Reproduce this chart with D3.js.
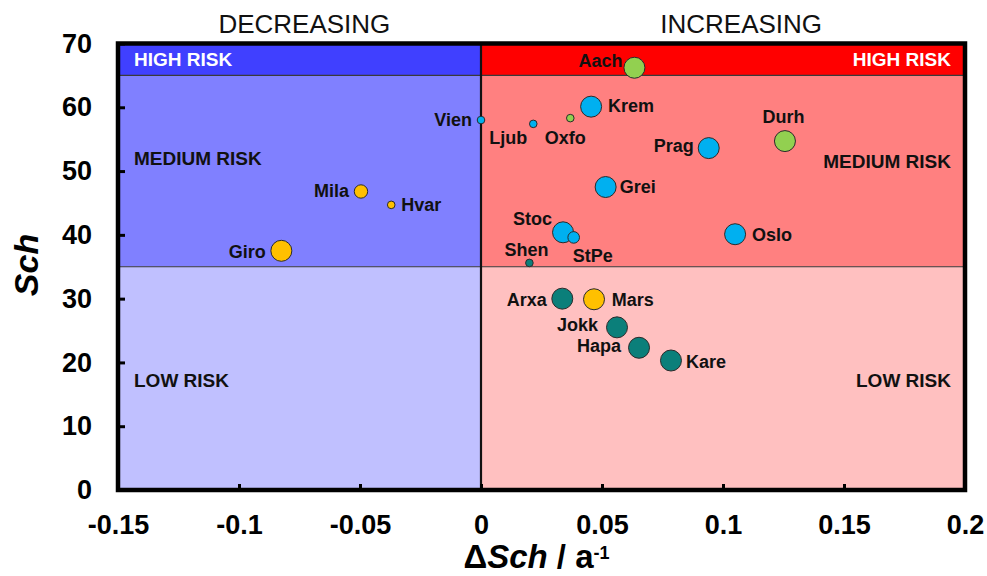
<!DOCTYPE html>
<html>
<head>
<meta charset="utf-8">
<script src="https://cdn.jsdelivr.net/npm/d3@7"></script>
<style>
  html, body { margin: 0; padding: 0; background: #fff; }
  svg text { font-family: "Liberation Sans", Arial, sans-serif; }
</style>
</head>
<body>
<svg id="chart" width="987" height="576"></svg>
<script>
// Sites, rate of change of the Sch index (per year) and current Sch value
const sites = ["Vien", "Ljub", "Oxfo", "Krem", "Prag", "Grei", "Stoc", "StPe", "Shen", "Oslo",
               "Durh", "Aach", "Mila", "Hvar", "Giro", "Arxa", "Mars", "Jokk", "Hapa", "Kare"];
const dSch = [0.000, 0.0216, 0.0369, 0.0455, 0.0941, 0.0515, 0.0339, 0.0383, 0.0200, 0.1050,
              0.1256, 0.0634, -0.0496, -0.0371, -0.0825, 0.0336, 0.0467, 0.0562, 0.0653, 0.0785];
const sch = [58.0, 57.4, 58.3, 60.1, 53.6, 47.5, 40.4, 39.6, 35.6, 40.1,
             54.7, 66.2, 46.8, 44.7, 37.5, 30.0, 29.9, 25.5, 22.3, 20.3];
// Site group (1..4) and bubble size class (1..4)
const group = [1, 1, 2, 1, 1, 1, 1, 1, 4, 1, 2, 2, 3, 3, 3, 4, 3, 4, 4, 4];
const sizeClass = [1, 1, 1, 4, 4, 4, 4, 2, 1, 4, 4, 4, 3, 1, 4, 4, 4, 4, 4, 4];

// Axes
const xDomain = [-0.15, 0.2];
const yDomain = [0, 70];
const xTicks = [-0.15, -0.1, -0.05, 0, 0.05, 0.1, 0.15, 0.2];
const yTicks = [0, 10, 20, 30, 40, 50, 60, 70];

// Risk bands (Sch limits) and their labels
const bandLimits = [0, 35, 65, 70];
const bandNames = ["LOW RISK", "MEDIUM RISK", "HIGH RISK"];
const trendNames = ["DECREASING", "INCREASING"];

const svg = d3.select("#chart");
const x = d3.scaleLinear().domain(xDomain).range([118, 965]);
const y = d3.scaleLinear().domain(yDomain).range([490, 43.5]);

const colour = d3.scaleOrdinal().domain([1, 2, 3, 4])
  .range(["#00B0F0", "#92D050", "#FFC000", "#0B7F7A"]);
const radius = d3.scaleOrdinal().domain([1, 2, 3, 4]).range([3.8, 5.8, 6.7, 10.5]);

const bandFill = {
  neg: ["#C0C0FF", "#8080FF", "#4040FF"],
  pos: ["#FFC0C0", "#FF8080", "#FF0000"]
};

// Background bands
const bands = [];
for (let i = 0; i < 3; i++) {
  bands.push({ x0: xDomain[0], x1: 0, y0: bandLimits[i], y1: bandLimits[i + 1], fill: bandFill.neg[i] });
  bands.push({ x0: 0, x1: xDomain[1], y0: bandLimits[i], y1: bandLimits[i + 1], fill: bandFill.pos[i] });
}
svg.append("g").selectAll("rect").data(bands).join("rect")
  .attr("x", d => x(d.x0)).attr("width", d => x(d.x1) - x(d.x0))
  .attr("y", d => y(d.y1)).attr("height", d => y(d.y0) - y(d.y1))
  .attr("fill", d => d.fill);

// Band boundaries
svg.append("g").selectAll("line").data([bandLimits[1], bandLimits[2]]).join("line")
  .attr("x1", x(xDomain[0])).attr("x2", x(xDomain[1]))
  .attr("y1", d => y(d)).attr("y2", d => y(d))
  .attr("stroke", "#3a3a3a").attr("stroke-width", 1.2);
svg.append("line")
  .attr("x1", x(0)).attr("x2", x(0)).attr("y1", y(yDomain[1])).attr("y2", y(0))
  .attr("stroke", "#111").attr("stroke-width", 2.2);

// Band labels
const bandLabelStyle = s => s.attr("font-weight", "bold").attr("font-size", 19)
  .attr("dominant-baseline", "central");
svg.append("g").selectAll("text").data(bandNames).join("text")
  .call(bandLabelStyle)
  .attr("x", x(xDomain[0]) + 16)
  .attr("y", (d, i) => i === 1 ? 158.5 : (i === 2 ? y((bandLimits[2] + bandLimits[3]) / 2) : 380))
  .attr("fill", (d, i) => i === 2 ? "#fff" : "#111")
  .text(d => d);
svg.append("g").selectAll("text").data(bandNames).join("text")
  .call(bandLabelStyle)
  .attr("text-anchor", "end")
  .attr("x", x(xDomain[1]) - 14)
  .attr("y", (d, i) => i === 1 ? 161.5 : (i === 2 ? y((bandLimits[2] + bandLimits[3]) / 2) : 380))
  .attr("fill", (d, i) => i === 2 ? "#fff" : "#111")
  .text(d => d);

// Trend headers
svg.append("g").selectAll("text").data(trendNames).join("text")
  .attr("x", (d, i) => i === 0 ? x(-0.073) : x(0.1075))
  .attr("y", 24)
  .attr("text-anchor", "middle").attr("dominant-baseline", "central")
  .attr("font-size", 26).attr("fill", "#111")
  .text(d => d);

// Frame
svg.append("rect")
  .attr("x", x(xDomain[0])).attr("y", y(yDomain[1]))
  .attr("width", x(xDomain[1]) - x(xDomain[0])).attr("height", y(0) - y(yDomain[1]))
  .attr("fill", "none").attr("stroke", "#000").attr("stroke-width", 4.5);

// Axes with inward ticks
const yAxis = d3.axisLeft(y).tickValues(yTicks).tickSize(-7).tickPadding(26)
  .tickFormat(d => String(d));
const gy = svg.append("g").attr("transform", `translate(${x(xDomain[0])},0)`).call(yAxis);
const xAxis = d3.axisBottom(x).tickValues(xTicks).tickSize(-6).tickPadding(25)
  .tickFormat(d => String(d));
const gx = svg.append("g").attr("transform", `translate(0,${y(0)})`).call(xAxis);
[gx, gy].forEach(g => {
  g.select(".domain").remove();
  g.selectAll(".tick line").attr("stroke", "#000").attr("stroke-width", 3);
  g.selectAll(".tick text").attr("fill", "#000").attr("font-size", 27).attr("font-weight", "bold")
    .attr("font-family", "'Liberation Sans', Arial, sans-serif");
});

// Axis titles
const xt = svg.append("text")
  .attr("x", (x(xDomain[0]) + x(xDomain[1])) / 2 - 5).attr("y", 568)
  .attr("text-anchor", "middle").attr("font-size", 33).attr("font-weight", "bold").attr("fill", "#000");
xt.append("tspan").text("\u0394");
xt.append("tspan").attr("font-style", "italic").text("Sch");
xt.append("tspan").text(" / a");
xt.append("tspan").attr("font-size", 18).attr("dy", -9).text("-1");

svg.append("text")
  .attr("transform", `translate(38,265) rotate(-90)`)
  .attr("text-anchor", "middle").attr("font-size", 34).attr("font-weight", "bold")
  .attr("font-style", "italic").attr("fill", "#000")
  .text("Sch");

// Points
const pts = sites.map((s, i) => ({ site: s, dx: dSch[i], v: sch[i], g: group[i], c: sizeClass[i] }));
svg.append("g").selectAll("circle").data(pts).join("circle")
  .attr("cx", d => x(d.dx)).attr("cy", d => y(d.v))
  .attr("r", d => radius(d.c))
  .attr("fill", d => colour(d.g))
  .attr("stroke", "#2a2a2a").attr("stroke-width", 1);

// Point labels: anchor and offset from the point centre
const labelPlace = {
  Vien: ["end", -9, 0], Ljub: ["end", -6, 14], Oxfo: ["middle", -5, 20], Krem: ["start", 17, -1],
  Prag: ["end", -15, -2], Grei: ["start", 14, 0], Stoc: ["end", -11, -13], StPe: ["start", -1, 19],
  Shen: ["middle", -3, -13], Oslo: ["start", 17, 1], Durh: ["middle", -1.5, -24], Aach: ["end", -12, -7],
  Mila: ["end", -12, 0], Hvar: ["start", 10, 0], Giro: ["end", -15.6, 1], Arxa: ["end", -15.6, 1],
  Mars: ["start", 17.7, 1], Jokk: ["end", -19, -2], Hapa: ["end", -18, -2], Kare: ["start", 15, 1]
};
svg.append("g").selectAll("text").data(pts).join("text")
  .attr("x", d => x(d.dx) + labelPlace[d.site][1])
  .attr("y", d => y(d.v) + labelPlace[d.site][2])
  .attr("text-anchor", d => labelPlace[d.site][0])
  .attr("dominant-baseline", "central")
  .attr("font-size", 18).attr("font-weight", "bold").attr("fill", "#111")
  .text(d => d.site);
</script>
</body>
</html>
